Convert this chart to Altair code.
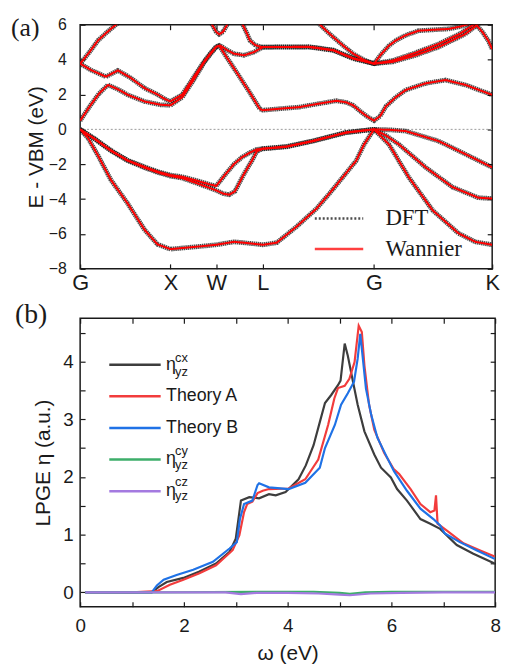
import altair as alt
import pandas as pd

FONT = "Liberation Sans"
SERIF = "Liberation Serif"

# ---------------- panel (a): band structure ----------------
K_LABELS = ["G", "X", "W", "L", "G", "K"]
K_TICKS = [0.0, 0.91, 1.37, 1.84, 2.96, 4.15]
E_TICKS = [-8, -6, -4, -2, 0, 2, 4, 6]

# (k, E); k is the path length along G-X-W-L-G-K
V1 = [(0.00, 0.0), (0.08, -0.5), (0.18, -1.5), (0.31, -2.9), (0.48, -4.26), (0.65, -5.77),
      (0.78, -6.6), (0.91, -6.87), (1.08, -6.78), (1.23, -6.7), (1.37, -6.62), (1.55, -6.45),
      (1.68, -6.52), (1.84, -6.62), (1.98, -6.5), (2.18, -5.58), (2.38, -4.55), (2.51, -3.69),
      (2.68, -2.5), (2.78, -1.8), (2.86, -0.86), (2.96, 0.0), (3.11, -0.86), (3.31, -2.75),
      (3.55, -4.64), (3.81, -5.96), (3.98, -6.45), (4.15, -6.62)]
V2 = [(0.00, 0.0), (0.15, -0.57), (0.31, -1.23), (0.48, -1.8), (0.65, -2.2), (0.78, -2.47),
      (0.91, -2.68), (1.03, -2.8), (1.18, -3.1), (1.30, -3.35), (1.37, -3.5), (1.44, -3.68),
      (1.50, -3.75), (1.56, -3.55), (1.65, -2.56), (1.73, -1.8), (1.78, -1.25), (1.84, -1.12),
      (2.08, -1.0), (2.35, -0.67), (2.68, -0.19), (2.96, 0.0), (3.08, -0.35), (3.21, -0.86),
      (3.48, -2.18), (3.75, -3.31), (4.01, -3.92), (4.15, -3.97)]
V3 = [(0.00, 0.0), (0.15, -0.55), (0.31, -1.2), (0.48, -1.78), (0.65, -2.15), (0.78, -2.42),
      (0.91, -2.62), (1.03, -2.72), (1.18, -2.95), (1.30, -3.15), (1.37, -3.25), (1.46, -2.6),
      (1.55, -1.99), (1.63, -1.6), (1.71, -1.33), (1.78, -1.15), (1.84, -1.1), (2.08, -0.98),
      (2.35, -0.65), (2.68, -0.17), (2.96, 0.0), (3.13, -0.03), (3.28, -0.1), (3.61, -0.67),
      (3.88, -1.42), (4.15, -2.18)]
C1 = [(0.00, 0.5), (0.10, 1.35), (0.19, 2.05), (0.28, 2.55), (0.38, 2.3), (0.48, 1.98),
      (0.65, 1.6), (0.81, 1.41), (0.91, 1.38), (1.03, 1.85), (1.15, 2.9), (1.25, 3.85),
      (1.31, 4.3), (1.37, 4.72), (1.40, 4.8), (1.44, 4.45), (1.48, 4.1), (1.55, 3.5),
      (1.63, 2.8), (1.71, 2.1), (1.78, 1.45), (1.81, 1.17), (1.84, 1.1), (2.21, 1.28),
      (2.38, 1.45), (2.58, 1.64), (2.68, 1.55), (2.75, 1.38), (2.83, 1.0), (2.90, 0.7),
      (2.96, 0.5), (3.02, 0.75), (3.08, 1.32), (3.18, 1.85), (3.28, 2.26), (3.48, 2.64),
      (3.68, 2.83), (3.88, 2.55), (4.15, 1.98)]
C2 = [(0.00, 3.77), (0.11, 3.4), (0.26, 3.02), (0.38, 3.38), (0.51, 2.95), (0.65, 2.36),
      (0.78, 2.0), (0.85, 1.75), (0.91, 1.6), (1.03, 2.0), (1.15, 3.05), (1.25, 3.9),
      (1.31, 4.35), (1.37, 4.75), (1.41, 4.81), (1.48, 4.55), (1.55, 4.34), (1.65, 4.25),
      (1.75, 4.43), (1.84, 4.72), (2.08, 4.72), (2.31, 4.72), (2.55, 4.53), (2.75, 4.06),
      (2.96, 3.77), (3.15, 3.87), (3.38, 4.25), (3.61, 4.72), (3.88, 5.47), (4.01, 6.04),
      (4.08, 6.4)]
C3A = [(0.00, 3.77), (0.09, 4.4), (0.18, 5.1), (0.28, 5.62), (0.38, 6.1), (0.45, 6.5)]
C3B = [(1.30, 6.4), (1.33, 6.0), (1.37, 5.6), (1.40, 5.45), (1.44, 5.6), (1.48, 6.0), (1.51, 6.4)]
C3C = [(1.60, 6.4), (1.63, 6.1), (1.68, 5.5), (1.71, 5.1), (1.76, 4.85), (1.81, 4.74),
       (1.84, 4.72), (2.08, 4.73), (2.31, 4.74), (2.55, 4.55), (2.75, 4.08), (2.96, 3.77),
       (3.03, 4.3), (3.11, 4.8), (3.18, 5.1), (3.28, 5.4), (3.41, 5.66), (3.58, 5.72),
       (3.71, 5.76), (3.83, 5.9), (3.91, 6.04), (3.98, 6.4)]
C4 = [(2.36, 6.4), (2.40, 6.1), (2.48, 5.65), (2.55, 5.29), (2.65, 4.8), (2.75, 4.34),
      (2.86, 3.98), (2.96, 3.77), (3.15, 3.95), (3.38, 4.4), (3.61, 4.9), (3.83, 5.5),
      (3.96, 6.0), (4.03, 6.4)]
C5 = [(3.92, 6.4), (3.98, 6.05), (4.05, 5.6), (4.11, 5.1), (4.15, 4.6)]

BANDS = [("V1", V1), ("V2", V2), ("V3", V3), ("C1", C1), ("C2", C2),
         ("C3a", C3A), ("C3b", C3B), ("C3c", C3C), ("C4", C4), ("C5", C5)]

rows = []
for name, pts in BANDS:
    for k, e in pts:
        rows.append({"band": name, "k": k, "E": e})
bands = pd.DataFrame(rows)

# ---------------- panel (b): LPGE spectra ----------------
W_CX = [0.1, 1.0, 1.38, 1.51, 1.67, 1.99, 2.30, 2.62, 2.88, 3.00, 3.10, 3.26, 3.45, 3.64, 3.77,
        3.96, 4.21, 4.35, 4.50, 4.62, 4.72, 4.84, 4.97, 5.02, 5.10, 5.16, 5.26, 5.35, 5.48, 5.67,
        5.80, 5.99, 6.11, 6.30, 6.56, 6.75, 6.94, 7.26, 7.58, 7.99]
ETA_CX = [0, 0, 0, 0.09, 0.18, 0.25, 0.36, 0.50, 0.70, 0.93, 1.59, 1.65, 1.63, 1.70, 1.68,
          1.74, 1.96, 2.20, 2.55, 2.95, 3.28, 3.42, 3.59, 3.67, 4.31, 4.10, 3.65, 3.25, 2.79, 2.39,
          2.16, 1.99, 1.79, 1.59, 1.27, 1.19, 1.10, 0.82, 0.67, 0.50]
W_A = [0.1, 1.0, 1.48, 1.73, 1.99, 2.30, 2.62, 2.94, 3.07, 3.16, 3.22, 3.32, 3.42, 3.52, 3.64,
       4.02, 4.34, 4.59, 4.78, 4.90, 4.97, 5.10, 5.19, 5.29, 5.37, 5.43, 5.48, 5.57, 5.67, 5.86,
       6.05, 6.15, 6.37, 6.56, 6.75, 6.83, 6.86, 6.89, 7.07, 7.39, 7.70, 7.99]
ETA_A = [0, 0, 0.02, 0.13, 0.22, 0.33, 0.47, 0.73, 0.99, 1.39, 1.53, 1.57, 1.72, 1.76, 1.79,
         1.80, 1.96, 2.30, 2.90, 3.36, 3.54, 3.58, 3.70, 3.99, 4.62, 4.51, 3.93, 3.25, 2.82, 2.42,
         2.13, 2.05, 1.79, 1.53, 1.39, 1.42, 1.68, 1.19, 1.07, 0.85, 0.73, 0.62]
W_B = [0.1, 1.0, 1.38, 1.48, 1.61, 1.86, 2.18, 2.56, 2.88, 3.02, 3.08, 3.16, 3.32, 3.42, 3.45,
       3.64, 4.02, 4.34, 4.62, 4.72, 4.91, 5.03, 5.16, 5.28, 5.35, 5.40, 5.45, 5.51, 5.61, 5.73,
       5.92, 6.05, 6.11, 6.30, 6.56, 6.81, 6.94, 7.03, 7.32, 7.64, 7.99]
ETA_B = [0, 0, 0, 0.12, 0.22, 0.30, 0.39, 0.53, 0.76, 0.87, 1.27, 1.53, 1.59, 1.86, 1.89,
         1.82, 1.79, 1.90, 2.16, 2.50, 2.90, 3.25, 3.45, 3.65, 4.05, 4.48, 4.05, 3.53, 3.08, 2.68,
         2.33, 2.10, 2.02, 1.76, 1.45, 1.27, 1.16, 1.02, 0.87, 0.73, 0.58]
W_CY = [0.1, 1.5, 2.5, 3.5, 4.5, 5.0, 5.2, 5.5, 6.0, 7.0, 8.0]
ETA_CY = [0, 0, 0.005, 0.01, 0.01, -0.01, -0.025, 0.0, 0.01, 0.01, 0.01]
W_CZ = [0.1, 1.5, 2.8, 3.1, 3.4, 4.0, 4.6, 5.0, 5.2, 5.6, 6.2, 7.0, 8.0]
ETA_CZ = [0, 0, 0, -0.03, -0.01, -0.01, -0.02, -0.04, -0.05, -0.02, -0.01, 0, 0]

SERIES = ["cx", "A", "B", "cy", "cz"]
SERIES_COLORS = ["#3d3d3d", "#f23c3c", "#1f72e6", "#3dae6a", "#a47ae0"]
SERIES_DATA = [(W_CX, ETA_CX), (W_A, ETA_A), (W_B, ETA_B), (W_CY, ETA_CY), (W_CZ, ETA_CZ)]
# super/subscripts of the three eta legend entries: (row index, superscript, subscript)
ETA_SCRIPTS = [(0, "cx", "yz"), (3, "cy", "yz"), (4, "cz", "yz")]

lrows = []
for s, (ws, es) in zip(SERIES, SERIES_DATA):
    for w, e in zip(ws, es):
        lrows.append({"s": s, "w": w, "eta": e})
lpge = pd.DataFrame(lrows)

# ---------------- common styling ----------------
INK = "#1a1a1a"
AX = dict(domain=False, grid=False, tickColor=INK, tickWidth=1.2, labelColor=INK)

# ---------------- build panel (a) ----------------
TK = 5
k_expr = " : ".join(f"abs(datum.value - {p}) < 0.01 ? '{l}'" for p, l in zip(K_TICKS, K_LABELS)) + " : ''"
xa_scale = alt.Scale(domain=[0, 4.15], nice=False, zero=False)
ya_scale = alt.Scale(domain=[-8, 6], nice=False, zero=False)

x_axis_a = alt.Axis(values=K_TICKS, labelExpr=k_expr, offset=-TK, tickSize=TK, labelPadding=4,
                    labelFont=FONT, labelFontSize=22, labelFlush=False, labelOverlap=False,
                    title=None, **AX)
y_axis_a = alt.Axis(values=E_TICKS, offset=-TK, tickSize=TK, labelPadding=14, labelFont=FONT,
                    labelFontSize=16, title="E - VBM (eV)", titleFont=FONT, titleFontSize=21,
                    titleFontWeight="normal", titlePadding=2, titleColor=INK, **AX)
x_top_a = alt.Axis(orient="top", values=K_TICKS[1:5], offset=-TK, tickSize=TK, labels=False,
                   title=None, **AX)
y_right_a = alt.Axis(orient="right", values=E_TICKS, offset=-TK, tickSize=TK, labels=False,
                     title=None, **AX)

ROW_A = 31
leg_a = alt.Legend(title=None, orient="none", legendX=236, legendY=196 - ROW_A / 2,
                   symbolType="stroke", symbolSize=2401, symbolStrokeWidth=2.5,
                   labelFont=SERIF, labelFontSize=23, labelOffset=21, clipHeight=ROW_A,
                   rowPadding=0, labelColor=INK, padding=0)
color_a = alt.Color("src:N", scale=alt.Scale(domain=["DFT", "Wannier"], range=["#111111", "#ff0000"]),
                    legend=leg_a)
dash_a = alt.StrokeDash("src:N", scale=alt.Scale(domain=["DFT", "Wannier"], range=[[2, 2], [1, 0]]),
                        legend=leg_a)

base_a = alt.Chart(bands)
frame_a = base_a.mark_point(opacity=0).encode(
    x=alt.X("k:Q", scale=xa_scale, axis=x_top_a),
    y=alt.Y("E:Q", scale=ya_scale, axis=y_right_a),
)
zero_a = alt.Chart(pd.DataFrame({"E": [0]})).mark_rule(color="#9a9a9a", strokeDash=[2, 2], strokeWidth=1).encode(
    y=alt.Y("E:Q", scale=ya_scale, axis=None)
)
dft = base_a.transform_calculate(src="'DFT'").mark_line(
    clip=True, strokeWidth=4.8, opacity=0.75, strokeDash=[1.5, 0.6]
).encode(
    x=alt.X("k:Q", scale=xa_scale, axis=x_axis_a),
    y=alt.Y("E:Q", scale=ya_scale, axis=y_axis_a),
    detail="band:N", color=color_a,
)
wan = base_a.transform_calculate(src="'Wannier'").mark_line(clip=True, strokeWidth=2).encode(
    x=alt.X("k:Q", scale=xa_scale, axis=None),
    y=alt.Y("E:Q", scale=ya_scale, axis=None),
    detail="band:N", color=color_a, strokeDash=dash_a,
)
tag_a = alt.Chart(pd.DataFrame({"t": ["(a)"]})).mark_text(
    font=SERIF, fontSize=26, align="left", baseline="middle", color=INK
).encode(text="t:N", x=alt.value(-70), y=alt.value(3))

panel_a = alt.layer(frame_a, zero_a, dft, wan, tag_a).resolve_axis(
    x="independent", y="independent").properties(width=417, height=247)

# ---------------- build panel (b) ----------------
XB_TICKS = [0, 1, 2, 3, 4, 5, 6, 7, 8]
YB_TICKS = [0, 0.5, 1, 1.5, 2, 2.5, 3, 3.5, 4, 4.5]
xb_scale = alt.Scale(domain=[0, 8], nice=False, zero=False)
yb_scale = alt.Scale(domain=[-0.25, 4.75], nice=False, zero=False)

x_axis_b = alt.Axis(values=XB_TICKS, labelExpr="datum.value % 2 == 0 ? format(datum.value, 'd') : ''",
                    offset=-TK, tickSize=TK, labelPadding=10, labelFont=FONT, labelFontSize=19,
                    labelFlush=False, labelOverlap=False, title="ω (eV)", titleFont=FONT,
                    titleFontSize=21, titleFontWeight="normal", titlePadding=7, titleColor=INK, **AX)
y_axis_b = alt.Axis(values=YB_TICKS, labelExpr="datum.value % 1 == 0 ? format(datum.value, 'd') : ''",
                    offset=-TK, tickSize=TK, labelPadding=7, labelFont=FONT, labelFontSize=19,
                    labelOverlap=False, title="LPGE η (a.u.)", titleFont=FONT, titleFontSize=21,
                    titleFontWeight="normal", titlePadding=9, titleColor=INK, **AX)
x_top_b = alt.Axis(orient="top", values=XB_TICKS, offset=-TK, tickSize=TK, labels=False, title=None, **AX)
y_right_b = alt.Axis(orient="right", values=YB_TICKS, offset=-TK, tickSize=TK, labels=False, title=None, **AX)

ROW_B = 31.5
LEG_B_X, LEG_B_Y0 = 28, 47        # first entry centre, relative to the plot corner
leg_b = alt.Legend(title=None, orient="none", legendX=LEG_B_X, legendY=LEG_B_Y0 - ROW_B / 2,
                   symbolType="stroke", symbolSize=2704, symbolStrokeWidth=2.5, labelFont=FONT,
                   labelFontSize=18, labelOffset=4, clipHeight=ROW_B, rowPadding=0,
                   labelColor=INK, padding=0,
                   labelExpr="datum.value == 'A' ? 'Theory A' : datum.value == 'B' ? 'Theory B' : 'η'")

base_b = alt.Chart(lpge)
frame_b = base_b.mark_point(opacity=0).encode(
    x=alt.X("w:Q", scale=xb_scale, axis=x_top_b),
    y=alt.Y("eta:Q", scale=yb_scale, axis=y_right_b),
)
lines_b = base_b.mark_line(clip=True, strokeWidth=2.2).encode(
    x=alt.X("w:Q", scale=xb_scale, axis=x_axis_b),
    y=alt.Y("eta:Q", scale=yb_scale, axis=y_axis_b),
    color=alt.Color("s:N", scale=alt.Scale(domain=SERIES, range=SERIES_COLORS), legend=leg_b),
)

one = pd.DataFrame({"t": [0]})
scripts = []
SCRIPT_X = LEG_B_X + 52 + 4 + 12
for row, sup, sub in ETA_SCRIPTS:
    yc = LEG_B_Y0 + row * ROW_B
    for txt, dy in [(sup, -7), (sub, 7)]:
        scripts.append(
            alt.Chart(one).mark_text(text=txt, font=FONT, fontSize=13, align="left",
                                     baseline="middle", color=INK)
            .encode(x=alt.value(SCRIPT_X), y=alt.value(yc + dy))
        )
tag_b = alt.Chart(pd.DataFrame({"t": ["(b)"]})).mark_text(
    font=SERIF, fontSize=28, align="left", baseline="middle", color=INK
).encode(text="t:N", x=alt.value(-66), y=alt.value(-3))

panel_b = alt.layer(frame_b, lines_b, *scripts, tag_b).resolve_axis(
    x="independent", y="independent").properties(width=420, height=292)

chart = alt.vconcat(panel_a, panel_b, spacing=6).resolve_scale(
    color="independent", strokeDash="independent", x="independent", y="independent"
).properties(
    padding={"left": 2, "top": 0, "right": 5, "bottom": 0}
).configure_view(stroke=INK, strokeWidth=1.5)

chart.save("out.html", embed_options={"renderer": "svg", "actions": False})
